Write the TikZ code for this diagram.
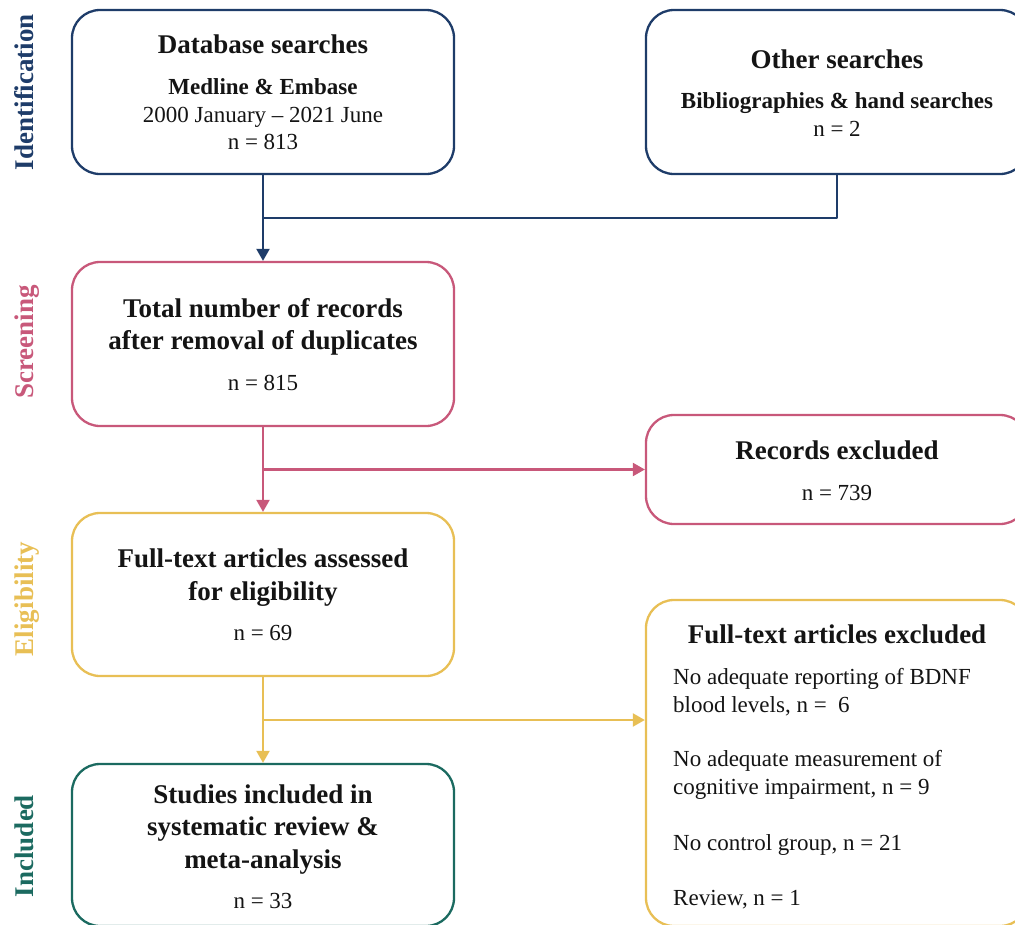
\documentclass[tikz,border=0pt]{standalone}
\usepackage{fontspec}
\setmainfont{Liberation Serif}
\usetikzlibrary{arrows.meta,calc}

\definecolor{navy}{HTML}{1E3C69}
\definecolor{rose}{HTML}{C8587A}
\definecolor{gold}{HTML}{E8BF55}
\definecolor{teal}{HTML}{1B6A60}
\definecolor{ink}{HTML}{141414}

\tikzset{
  stage/.style={draw=#1, line width=2.3pt, rounded corners=28pt,
    minimum width=382pt, fill=white, inner sep=0pt},
  link/.style={draw=#1, line width=2.2pt, line join=round},
  tip/.style={-{Triangle[width=13pt,length=12pt]}},
  headline/.style={font=\bfseries\fontsize{27}{32}\selectfont, anchor=base, text=ink, inner sep=0pt},
  subline/.style={font=\bfseries\fontsize{23}{28}\selectfont, anchor=base, text=ink, inner sep=0pt},
  bodyline/.style={font=\fontsize{23}{28}\selectfont, anchor=base, text=ink, inner sep=0pt},
  itemline/.style={font=\fontsize{23}{28}\selectfont, anchor=base west, text=ink, inner sep=0pt},
  phase/.style={font=\bfseries\fontsize{27}{32}\selectfont, rotate=90, anchor=base, text=#1, inner sep=0pt},
}

\begin{document}
\begin{tikzpicture}[x=1pt,y=-1pt]
\useasboundingbox (0,0) rectangle (1015,924);

% phase labels
\node[phase=navy] (pid)  at (33,92)  {Identification};
\node[phase=rose] (pscr) at (33,342) {Screening};
\node[phase=gold] (pel)  at (33,599) {Eligibility};
\node[phase=teal] (pinc) at (33,846) {Included};

% boxes
\node[stage=navy, minimum height=164pt] (db)   at (263,92) {};
\node[stage=navy, minimum height=164pt] (oth)  at (837,92) {};
\node[stage=rose, minimum height=164pt] (scr)  at (263,344) {};
\node[stage=rose, minimum height=109pt] (rec)  at (837,469.5) {};
\node[stage=gold, minimum height=163pt] (elig) at (263,594.5) {};
\node[stage=gold, minimum height=326pt] (fte)  at (837,763) {};
\node[stage=teal, minimum height=162pt] (inc)  at (263,845) {};

% texts: database searches
\node[headline] (t1a) at (263,53)    {Database searches};
\node[subline]  (t1b) at (263,94)    {Medline \& Embase};
\node[bodyline] (t1c) at (263,122.7) {2000 January -- 2021 June};
\node[bodyline] (t1d) at (263,149)   {n = 813};

% other searches
\node[headline] (t2a) at (837,68)  {Other searches};
\node[subline]  (t2b) at (837,108) {Bibliographies \& hand searches};
\node[bodyline] (t2c) at (837,136) {n = 2};

% screening
\node[headline] (t3a) at (263,317) {Total number of records};
\node[headline] (t3b) at (263,349) {after removal of duplicates};
\node[bodyline] (t3c) at (263,390) {n = 815};

% records excluded
\node[headline] (t4a) at (837,459.3) {Records excluded};
\node[bodyline] (t4b) at (837,500)   {n = 739};

% eligibility
\node[headline] (t5a) at (263,567.7) {Full-text articles assessed};
\node[headline] (t5b) at (263,600)   {for eligibility};
\node[bodyline] (t5c) at (263,640)   {n = 69};

% full-text excluded
\node[headline] (t6a) at (837,643.3) {Full-text articles excluded};
\node[itemline] (t6b) at (673,684.3) {No adequate reporting of BDNF};
\node[itemline] (t6c) at (673,712.3) {blood levels, n = ~6};
\node[itemline] (t6d) at (673,766.7) {No adequate measurement of};
\node[itemline] (t6e) at (673,794)   {cognitive impairment, n = 9};
\node[itemline] (t6f) at (673,850)   {No control group, n = 21};
\node[itemline] (t6g) at (673,905)   {Review, n = 1};

% included
\node[headline] (t7a) at (263,803.3) {Studies included in};
\node[headline] (t7b) at (263,835)   {systematic review \&};
\node[headline] (t7c) at (263,868.3) {meta-analysis};
\node[bodyline] (t7d) at (263,908.3) {n = 33};

% connectors
\coordinate (j1) at ($(db.south)!0.5!(scr.north)$);
\draw[link=navy, tip] (db.south) -- (scr.north);
\draw[link=navy] (oth.south) |- (j1);

\coordinate (j2) at ($(scr.south)!0.5!(elig.north)$);
\draw[link=rose, tip] (scr.south) -- (elig.north);
\draw[link=rose, tip] (j2) -- (j2 -| rec.west);

\coordinate (j3) at ($(elig.south)!0.5!(inc.north)$);
\draw[link=gold, tip] (elig.south) -- (inc.north);
\draw[link=gold, tip] (j3) -- (j3 -| fte.west);
\end{tikzpicture}
\end{document}
